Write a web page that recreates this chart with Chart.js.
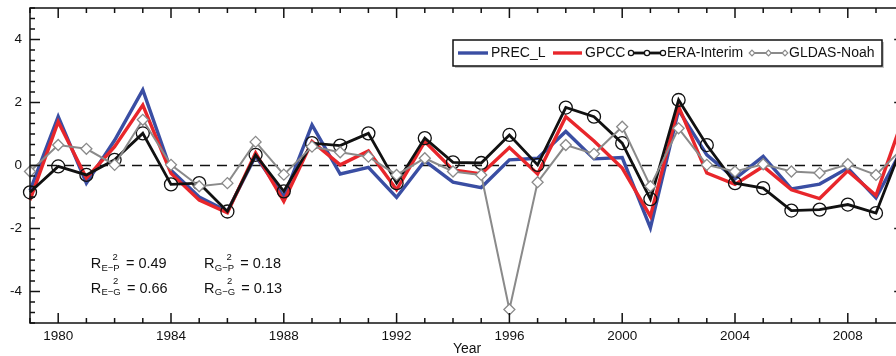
<!DOCTYPE html>
<html><head><meta charset="utf-8">
<script src="https://cdn.jsdelivr.net/npm/chart.js@4.4.1/dist/chart.umd.min.js"></script>
<style>html,body{margin:0;padding:0;overflow:hidden;background:#fff;width:896px;height:356px}canvas{display:block}</style>
</head><body>
<canvas id="c" width="912" height="356"></canvas>
<script>
const years = [1979,1980,1981,1982,1983,1984,1985,1986,1987,1988,1989,1990,1991,1992,1993,1994,1995,1996,1997,1998,1999,2000,2001,2002,2003,2004,2005,2006,2007,2008,2009,2010];
const precL = [-0.8,1.55,-0.56,0.8,2.4,-0.15,-1.0,-1.45,0.3,-1.0,1.29,-0.27,-0.06,-1.01,0.15,-0.53,-0.7,0.18,0.23,1.08,0.21,0.25,-1.98,1.76,0.34,-0.42,0.29,-0.74,-0.59,-0.08,-1.03,0.65];
const gpcc  = [-1.1,1.39,-0.4,0.6,1.92,-0.25,-1.1,-1.5,0.4,-1.14,0.76,0.02,0.46,-0.77,0.76,-0.14,-0.27,0.57,-0.27,1.55,0.78,-0.08,-1.61,1.87,-0.24,-0.6,-0.03,-0.77,-1.05,-0.17,-0.95,1.6];
const eraInterim = [-0.85,-0.03,-0.3,0.18,1.02,-0.6,-0.56,-1.46,0.34,-0.82,0.71,0.63,1.02,-0.56,0.87,0.1,0.08,0.97,0.02,1.84,1.55,0.71,-1.07,2.08,0.65,-0.56,-0.72,-1.43,-1.4,-1.24,-1.51,0.8];
const gldasNoah = [-0.19,0.65,0.53,0.02,1.45,0.02,-0.66,-0.56,0.75,-0.29,0.6,0.42,0.28,-0.3,0.23,-0.19,-0.3,-4.57,-0.53,0.65,0.37,1.23,-0.66,1.18,0.02,-0.19,0.04,-0.19,-0.24,0.04,-0.3,0.6];
const seriesLabels = ['PREC_L','GPCC','ERA-Interim','GLDAS-Noah'];
const xTickLabels = [1980,1984,1988,1992,1996,2000,2004,2008];
const yTickLabels = [-4,-2,0,2,4];
const statSubs = ['E\u2212P','G\u2212P','E\u2212G','G\u2212G'];
const statValues = ['0.49','0.18','0.66','0.13'];

const FONT = "'Liberation Sans', Arial, Helvetica, sans-serif";
const toPts = arr => years.map((y,i)=>({x:y,y:arr[i]}));

const datasets = [
  {label:seriesLabels[0], data:toPts(precL), borderColor:'#3a4ea3', borderWidth:3.4, pointRadius:0, pointStyle:false, order:4},
  {label:seriesLabels[1], data:toPts(gpcc), borderColor:'#e8262b', borderWidth:3.4, pointRadius:0, pointStyle:false, order:3},
  {label:seriesLabels[2], data:toPts(eraInterim), borderColor:'#111111', borderWidth:2.8, pointStyle:'circle', pointRadius:6.5, pointBorderColor:'#111', pointBackgroundColor:'rgba(0,0,0,0)', pointBorderWidth:1.3, order:2},
  {label:seriesLabels[3], data:toPts(gldasNoah), borderColor:'#8a8a8a', borderWidth:2, pointStyle:'rectRot', pointRadius:5.5, pointBorderColor:'#8a8a8a', pointBackgroundColor:'#ffffff', pointBorderWidth:1.3, order:1}
];
datasets.forEach(d=>{d.tension=0; d.clip=false; d.fill=false; d.pointHoverRadius=d.pointRadius;});

const decor = {
  id:'decor',
  beforeDatasetsDraw(chart){
    const {ctx, chartArea:{left,right}} = chart;
    const y0 = chart.scales.y.getPixelForValue(0);
    ctx.save();
    ctx.strokeStyle='#111'; ctx.lineWidth=1.4; ctx.setLineDash([10,7]);
    ctx.beginPath(); ctx.moveTo(left,y0); ctx.lineTo(right,y0); ctx.stroke();
    ctx.restore();
  },
  afterDraw(chart){
    const {ctx, chartArea:{left,right,top,bottom}} = chart;
    const xs = chart.scales.x, ys = chart.scales.y;
    ctx.save();
    ctx.strokeStyle='#111'; ctx.lineWidth=1.5;
    const line=(a,b,c,d)=>{ctx.beginPath();ctx.moveTo(a,b);ctx.lineTo(c,d);ctx.stroke();};
    for (let yr = xs.min; yr <= xs.max; yr++) {
      const px = xs.getPixelForValue(yr);
      const len = xTickLabels.includes(yr) ? 10 : 5;
      line(px,bottom,px,bottom-len); line(px,top,px,top+len);
    }
    for (let k=-15;k<=15;k++){
      const py = ys.getPixelForValue(k/3);
      const len = (k%6===0)?10:5;
      line(left,py,left+len,py); line(right,py,right-len,py);
    }
    ctx.strokeRect(left,top,right-left,bottom-top);

    // legend
    const bx=453, by=40, bw=429, bh=26;
    ctx.fillStyle='#c4c4c4'; ctx.fillRect(bx+2,by+2,bw,bh);
    ctx.fillStyle='#fff'; ctx.fillRect(bx,by,bw,bh);
    ctx.strokeStyle='#111'; ctx.lineWidth=1.5; ctx.strokeRect(bx,by,bw,bh);
    const ly = by+bh/2;
    const items = [[458,488,491],[553,582,585],[631,663,667],[752,785,789]];
    chart.data.datasets.forEach((d,i)=>{
      const [x1,x2,tx] = items[i];
      ctx.strokeStyle=d.borderColor; ctx.lineWidth=d.borderWidth; ctx.setLineDash([]);
      line(x1,ly,x2,ly);
      if (d.pointStyle){
        ctx.lineWidth=1.2; ctx.fillStyle='#fff';
        [x1,(x1+x2)/2,x2].forEach(px=>{
          ctx.beginPath();
          if (d.pointStyle==='circle'){ ctx.arc(px,ly,2.6,0,Math.PI*2); }
          else { ctx.moveTo(px,ly-2.8); ctx.lineTo(px+2.8,ly); ctx.lineTo(px,ly+2.8); ctx.lineTo(px-2.8,ly); ctx.closePath(); }
          ctx.fill(); ctx.stroke();
        });
      }
      ctx.fillStyle='#111'; ctx.font='14px '+FONT; ctx.textAlign='left'; ctx.textBaseline='middle';
      ctx.fillText(d.label, tx, ly+0.5);
    });

    // R^2 annotations
    const pos = [[90.7,268.3],[204,268.3],[90.7,292.6],[204,292.6]];
    ctx.textBaseline='alphabetic'; ctx.fillStyle='#111';
    pos.forEach(([x,y],i)=>{
      ctx.font='14.5px '+FONT; ctx.fillText('R',x,y);
      const w = ctx.measureText('R').width;
      ctx.font='9.5px '+FONT; ctx.fillText(statSubs[i], x+w+0.3, y+2.5);
      const sw = ctx.measureText(statSubs[i]).width;
      ctx.fillText('2', x+w+sw*0.62, y-8.5);
      ctx.font='14.5px '+FONT; ctx.fillText('= '+statValues[i], x+w+sw+6.5, y);
    });
    ctx.restore();
  }
};

new Chart(document.getElementById('c'), {
  type:'line',
  data:{datasets},
  options:{
    responsive:false, animation:false, devicePixelRatio:1,
    layout:{padding:{top:8,right:6,left:0,bottom:0}},
    plugins:{legend:{display:false}, tooltip:{enabled:false}},
    scales:{
      x:{type:'linear', position:'bottom', min:1979, max:2010,
        grid:{display:false, drawTicks:false}, border:{display:false},
        afterBuildTicks:s=>{s.ticks = xTickLabels.map(v=>({value:v}));},
        afterFit:s=>{s.height=33; s.paddingLeft=0; s.paddingRight=0;},
        ticks:{autoSkip:false, maxRotation:0, padding:5, color:'#111', font:{family:FONT,size:13.5}, callback:v=>String(v)},
        title:{display:true, text:'Year', color:'#111', font:{family:FONT,size:14}, padding:{top:0,bottom:-2}}
      },
      y:{min:-5, max:5,
        grid:{display:false, drawTicks:false}, border:{display:false},
        afterBuildTicks:s=>{s.ticks = yTickLabels.map(v=>({value:v}));},
        afterFit:s=>{s.width=30; s.paddingTop=0; s.paddingBottom=0;},
        ticks:{padding:8, color:'#111', font:{family:FONT,size:13.5}, callback:v=>String(v)}
      }
    }
  },
  plugins:[decor]
});
</script>
</body></html>
